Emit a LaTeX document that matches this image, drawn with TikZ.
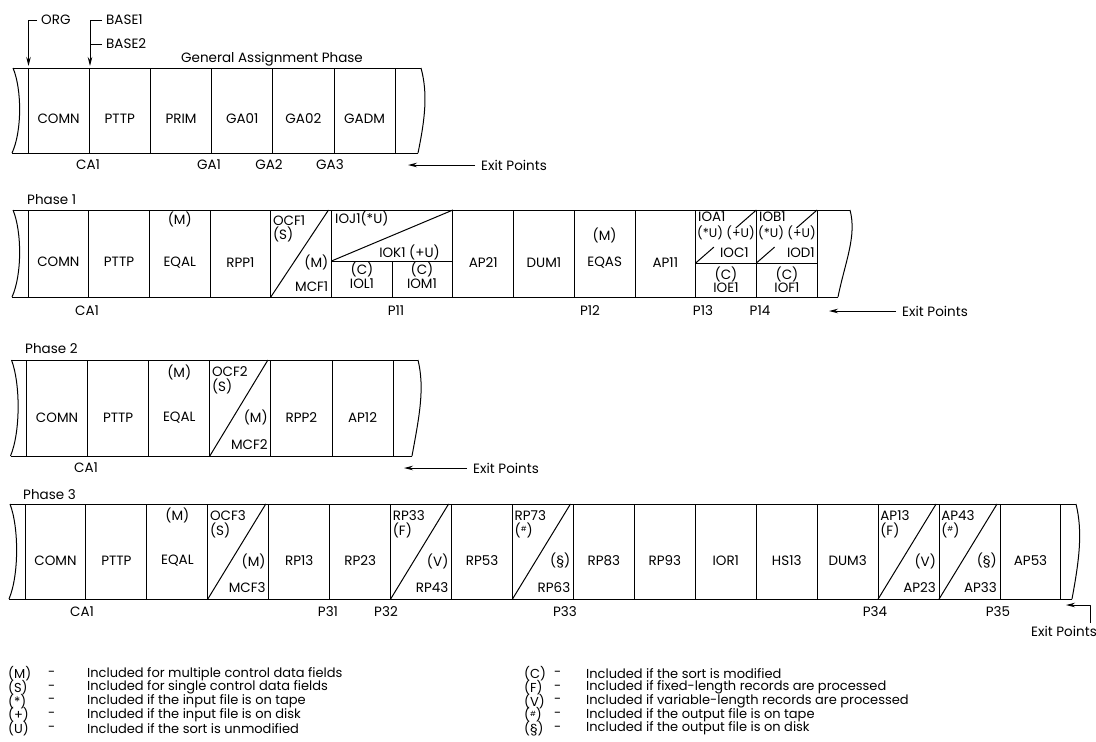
\documentclass[tikz,border=0pt]{standalone}
\usepackage{fontspec}
\setmainfont{Poppins}
\usetikzlibrary{arrows.meta,calc}
\newcommand\tornstrip[6]{%
  \draw[ln] (#1-15,#2) .. controls (#1-6,{#2+0.25*(#3-#2)}) and (#1-6,{#3-0.25*(#3-#2)}) .. (#1-16,#3);
  \draw[ln] (#1-15,#2) -- (#4,#2);
  \draw[ln] (#1-16,#3) -- (#5,#3);
  \draw[ln] (#4,#2) .. controls ({#4+#6},{#2+0.3*(#3-#2)}) and ({#5+#6},{#3-0.4*(#3-#2)}) .. (#5,#3);
}
\newcommand\dgcell[6]{%
  \pgfmathsetmacro\dl{\xo+#2*\w}\pgfmathsetmacro\dr{\xo+(#2+1)*\w}\pgfmathsetmacro\dh{\B-\T}%
  \draw[ln] (\dl,\B) -- (\dr-3,\T);
  \node[lbl,anchor=west] (#1a) at (\dl+2,\T+0.12*\dh) {#3};
  \node[lbl,anchor=west] (#1b) at (\dl+2,\T+0.28*\dh) {#4};
  \node[lbl,anchor=east] (#1c) at (\dr-3,\T+0.6*\dh) {#5};
  \node[lbl,anchor=east] (#1d) at (\dr-3,\T+0.88*\dh) {#6};
}
\newcommand\hsh{(\raisebox{0.28em}{\fontsize{7}{7}\selectfont\#})}
\begin{document}
\begin{tikzpicture}[x=1pt,y=-1pt,
  ln/.style={line width=1pt,line join=round},
  lbl/.style={font=\fontsize{13.5}{14}\selectfont,inner sep=0pt},
  sml/.style={font=\fontsize{12.5}{13}\selectfont,inner sep=0pt},
  leg/.style={font=\fontsize{13}{14}\selectfont,inner sep=0pt,anchor=west},
  arr/.style={ln,-{Stealth[length=9pt,width=4.5pt]}}]
\fill[white] (0,0) rectangle (1096,742);
\useasboundingbox (0,0) rectangle (1096,742);

% ---------- top annotations
\node[lbl,anchor=west] (org) at (41,20) {ORG};
\coordinate (orgend) at (28.5,66);
\draw[arr] ([xshift=-4pt]org.west) -| (orgend);
\node[lbl,anchor=west] (b1) at (106,20) {BASE1};
\node[lbl,anchor=west] (b2) at (106,44) {BASE2};
\coordinate (bend) at (90,66);
\draw[arr] ([xshift=-4pt]b1.west) -| (bend);
\draw[ln] ([xshift=-4pt]b2.west) -- (b2.west -| bend);
\node[lbl] (gap) at (272,59) {General Assignment Phase};

% ---------- General assignment strip
\def\xo{28}\def\w{61.2}\def\T{68}\def\B{153}
\tornstrip{28}{68}{153}{421}{418}{7}
\foreach \k in {0,...,6} \draw[ln] ({\xo+\k*\w},\T) -- ({\xo+\k*\w},\B);
\foreach \t [count=\i from 0] in {COMN,PTTP,PRIM,GA01,GA02,GADM}
  \node[lbl] (ga\i) at ({\xo+(\i+0.5)*\w},{\T+0.6*(\B-\T)}) {\t};
\node[lbl] (gca) at (88,165) {CA1};
\node[lbl] (gp1) at (209,165) {GA1};
\node[lbl] (gp2) at (269,165) {GA2};
\node[lbl] (gp3) at (330,165) {GA3};
\node[lbl,anchor=west] (ex0) at (481,165) {Exit Points};
\coordinate (ex0t) at (408,165);
\draw[arr] ([xshift=-6pt]ex0.west) -- (ex0t);

% ---------- Phase 1
\node[lbl,anchor=west] (ph1) at (27,200) {Phase 1};
\def\xo{28}\def\w{60.7}\def\T{210}\def\B{297}
\tornstrip{28}{210}{297}{850}{838}{7}
\foreach \k in {0,...,5,7,8,...,13} \draw[ln] ({\xo+\k*\w},\T) -- ({\xo+\k*\w},\B);
\draw[ln] ({\xo+6*\w},261) -- ({\xo+6*\w},\B);
\draw[ln] ({\xo+5*\w},261) -- ({\xo+7*\w},261);
\draw[ln] ({\xo+5*\w},261) -- ({\xo+7*\w},\T);
\draw[ln] ({\xo+11*\w},263) -- ({\xo+13*\w},263);
\foreach \k in {11,12}{
  \draw[ln] ({\xo+\k*\w},263) -- ({\xo+(\k+0.3)*\w},{263-0.3*53});
  \draw[ln] ({\xo+(\k+0.66)*\w},{263-0.66*53}) -- ({\xo+(\k+1)*\w},210);
}
\foreach \t/\k [count=\i] in {COMN/0,PTTP/1,EQAL/2,RPP1/3,AP21/7,DUM1/8,EQAS/9,AP11/10}
  \node[lbl] (p1c\i) at ({\xo+(\k+0.5)*\w},{\T+0.6*(\B-\T)}) {\t};
\node[lbl] (p1m1) at ({\xo+2.5*\w},219) {(M)};
\node[lbl] (p1m2) at ({\xo+9.5*\w},235) {(M)};
\dgcell{ocfa}{4}{OCF1}{(S)}{(M)}{MCF1}
\node[lbl,anchor=west] (ioj) at (335,218) {IOJ1(*U)};
\node[lbl,anchor=east] (iok) at (440,252) {IOK1 (+U)};
\node[lbl] (iolc) at (362,269) {(C)};
\node[lbl] (iol) at (362,284) {IOL1};
\node[lbl] (iomc) at (422,269) {(C)};
\node[lbl] (iom) at (422,284) {IOM1};
\node[lbl,anchor=west] (ioa) at (698,217) {IOA1};
\node[sml] (ioau) at (726,233) {(*U) (+U)};
\node[lbl,anchor=east] (ioc) at (749,253) {IOC1};
\node[lbl] (ioec) at (726,274) {(C)};
\node[lbl] (ioe) at (726,288) {IOE1};
\node[lbl,anchor=west] (iob) at (759,217) {IOB1};
\node[sml] (iobu) at (787,233) {(*U) (+U)};
\node[lbl,anchor=east] (iod) at (815,253) {IOD1};
\node[lbl] (iofc) at (787,274) {(C)};
\node[lbl] (iof) at (787,288) {IOF1};
\node[lbl] (p1ca) at (87,311) {CA1};
\node[lbl] (p11) at (396,311) {P11};
\node[lbl] (p12) at (590,311) {P12};
\node[lbl] (p13) at (703,311) {P13};
\node[lbl] (p14) at (760,311) {P14};
\node[lbl,anchor=west] (ex1) at (902,311) {Exit Points};
\coordinate (ex1t) at (829,311);
\draw[arr] ([xshift=-6pt]ex1.west) -- (ex1t);

% ---------- Phase 2
\node[lbl,anchor=west] (ph2) at (25,349) {Phase 2};
\def\xo{26.5}\def\w{61.1}\def\T{360}\def\B{456}
\tornstrip{26.5}{360}{456}{418}{412}{7}
\foreach \k in {0,...,6} \draw[ln] ({\xo+\k*\w},\T) -- ({\xo+\k*\w},\B);
\foreach \t/\k [count=\i] in {COMN/0,PTTP/1,EQAL/2,RPP2/4,AP12/5}
  \node[lbl] (p2c\i) at ({\xo+(\k+0.5)*\w},{\T+0.6*(\B-\T)}) {\t};
\node[lbl] (p2m) at ({\xo+2.5*\w},372) {(M)};
\dgcell{ocfb}{3}{OCF2}{(S)}{(M)}{MCF2}
\node[lbl] (p2ca) at (86,468) {CA1};
\node[lbl,anchor=west] (ex2) at (473,468) {Exit Points};
\coordinate (ex2t) at (404,468);
\draw[arr] ([xshift=-6pt]ex2.west) -- (ex2t);

% ---------- Phase 3
\node[lbl,anchor=west] (ph3) at (23,495) {Phase 3};
\def\xo{25}\def\w{60.94}\def\T{504}\def\B{599}
\tornstrip{25}{504}{599}{1076}{1072}{7}
\foreach \k in {0,...,17} \draw[ln] ({\xo+\k*\w},\T) -- ({\xo+\k*\w},\B);
\foreach \t/\k [count=\i] in {COMN/0,PTTP/1,EQAL/2,RP13/4,RP23/5,RP53/7,RP83/9,RP93/10,IOR1/11,HS13/12,DUM3/13,AP53/16}
  \node[lbl] (p3c\i) at ({\xo+(\k+0.5)*\w},{\T+0.6*(\B-\T)}) {\t};
\node[lbl] (p3m) at ({\xo+2.5*\w},515) {(M)};
\dgcell{ocfc}{3}{OCF3}{(S)}{(M)}{MCF3}
\dgcell{rpa}{6}{RP33}{(F)}{(V)}{RP43}
\dgcell{rpb}{8}{RP73}{\hsh}{(\S)}{RP63}
\dgcell{apa}{14}{AP13}{(F)}{(V)}{AP23}
\dgcell{apb}{15}{AP43}{\hsh}{(\S)}{AP33}
\node[lbl] (p3ca) at (82,612) {CA1};
\node[lbl] (p31) at (328,612) {P31};
\node[lbl] (p32) at (386,612) {P32};
\node[lbl] (p33) at (565,612) {P33};
\node[lbl] (p34) at (875,612) {P34};
\node[lbl] (p35) at (998,612) {P35};
\node[lbl,anchor=east] (ex3) at (1097,631) {Exit Points};
\coordinate (ex3k) at (1090,605);
\coordinate (ex3t) at (1066,605);
\draw[arr] ($(ex3k |- ex3.north)+(0,-3)$) -- (ex3k) -- (ex3t);

% ---------- legend
\foreach \s/\t [count=\i from 0] in {(M)/Included for multiple control data fields,(S)/Included for single control data fields,(*)/Included if the input file is on tape,(+)/Included if the input file is on disk,(U)/Included if the sort is unmodified}{
  \node[leg] (ls\i) at (8,{674+\i*13.6}) {\s};
  \node[leg] (ld\i) at (48,{674+\i*13.6}) {-};
  \node[leg] (lt\i) at (87,{674+\i*13.6}) {\t};
}
\foreach \s/\t [count=\i from 0] in {(C)/Included if the sort is modified,(F)/Included if fixed-length records are processed,(V)/Included if variable-length records are processed,{\hsh}/Included if the output file is on tape,(\S)/Included if the output file is on disk}{
  \node[leg] (rs\i) at (524,{674+\i*13.6}) {\s};
  \node[leg] (rd\i) at (554,{674+\i*13.6}) {-};
  \node[leg] (rt\i) at (586,{674+\i*13.6}) {\t};
}
\end{tikzpicture}
\end{document}
